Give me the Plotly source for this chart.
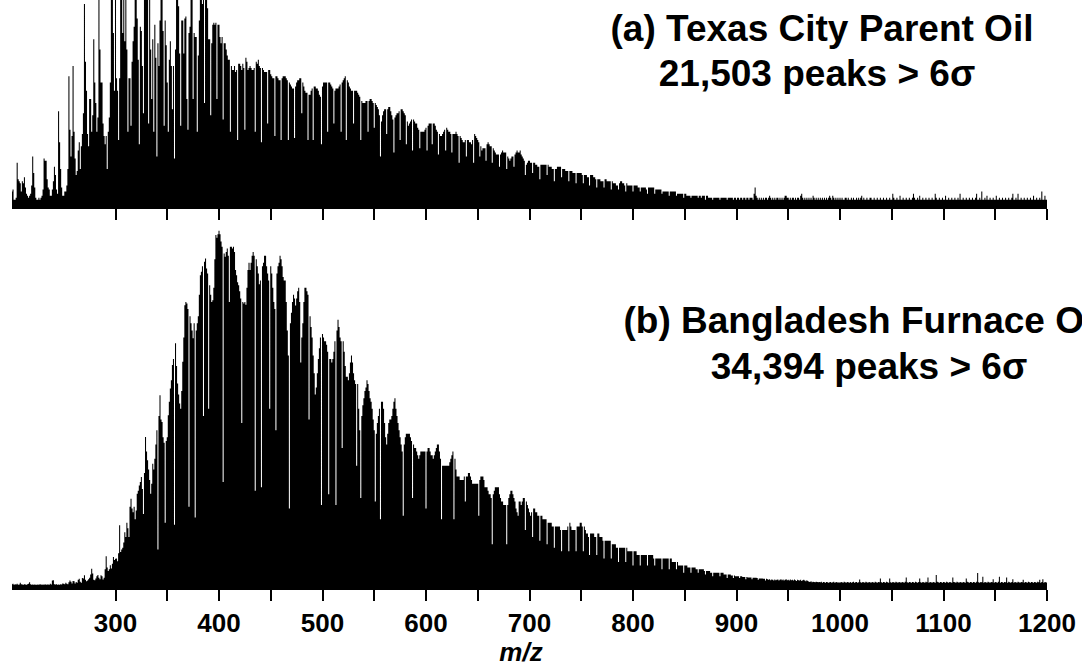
import plotly.graph_objects as go

# Nominal-mass grid shared by both spectra (m/z 200 .. 1200, 1 Da steps)
MZ_START = 200
MZ_STOP = 1200

# (a) Texas City parent oil: relative abundance per nominal mass
# (panel scale: 100 = top of the panel, taller peaks run off-scale)
INTENSITY_A = [
    7, 8, 3, 3, 4, 21, 13, 12, 11, 7,            # 200
    12, 11, 14, 9, 6, 5, 4, 5, 6, 10,            # 210
    24, 16, 9, 4, 3, 3, 4, 3, 4, 5,              # 220
    8, 23, 22, 22, 13, 9, 8, 5, 5, 8,            # 230
    12, 19, 15, 8, 6, 46, 31, 18, 9, 5,          # 240
    5, 7, 7, 10, 18, 63, 37, 24, 34, 68,         # 250
    36, 23, 15, 17, 27, 31, 18, 29, 35, 45,      # 260
    98, 70, 56, 35, 29, 52, 52, 36, 44, 81,      # 270
    60, 50, 36, 43, 115, 76, 60, 60, 40, 34,     # 280
    30, 34, 18, 36, 43, 60, 120, 125, 84, 56,    # 290
    118, 62, 56, 32, 62, 130, 135, 84, 125, 80,  # 300
    128, 76, 36, 62, 62, 39, 70, 80, 87, 125,    # 310
    130, 91, 71, 30, 87, 85, 68, 45, 120, 135,   # 320
    130, 125, 40, 110, 76, 52, 81, 36, 88, 72,   # 330
    24, 79, 68, 90, 115, 140, 85, 39, 90, 78,    # 340
    60, 36, 71, 80, 68, 47, 68, 23, 76, 118,     # 350
    130, 97, 74, 39, 90, 90, 74, 91, 92, 52,     # 360
    37, 84, 87, 112, 135, 52, 84, 82, 82, 36,    # 370
    73, 90, 120, 130, 98, 110, 50, 105, 115, 96, # 380
    81, 81, 44, 79, 88, 89, 88, 89, 52, 88,      # 390
    88, 82, 79, 82, 42, 79, 79, 76, 73, 71,      # 400
    71, 36, 68, 66, 66, 68, 65, 66, 32, 69,      # 410
    69, 68, 66, 69, 67, 37, 72, 70, 66, 67,      # 420
    68, 67, 66, 66, 67, 36, 70, 69, 71, 68,      # 430
    67, 31, 67, 66, 65, 65, 65, 40, 66, 66,      # 440
    64, 63, 62, 62, 34, 63, 63, 62, 61, 61,      # 450
    32, 62, 63, 63, 63, 62, 61, 32, 60, 59,      # 460
    58, 57, 57, 33, 58, 60, 61, 61, 62, 62,      # 470
    45, 60, 58, 56, 55, 55, 32, 54, 54, 56,      # 480
    57, 32, 58, 58, 57, 57, 56, 54, 53, 30,      # 490
    58, 60, 60, 60, 60, 36, 60, 60, 59, 58,      # 500
    57, 40, 56, 57, 57, 57, 58, 59, 36, 60,      # 510
    61, 62, 63, 32, 61, 60, 58, 57, 56, 56,      # 520
    40, 56, 56, 56, 55, 54, 53, 32, 51, 50,      # 530
    50, 50, 51, 51, 36, 51, 52, 52, 51, 50,      # 540
    38, 50, 49, 48, 47, 44, 24, 41, 44, 46,      # 550
    47, 47, 35, 47, 48, 48, 46, 44, 42, 26,      # 560
    43, 44, 45, 45, 46, 32, 47, 47, 46, 45,      # 570
    44, 30, 41, 39, 40, 41, 42, 27, 42, 41,      # 580
    40, 40, 38, 37, 28, 36, 36, 36, 36, 37,      # 590
    38, 27, 39, 40, 40, 40, 30, 40, 40, 39,      # 600
    37, 36, 25, 35, 34, 34, 35, 36, 37, 27,      # 610
    38, 37, 36, 36, 35, 26, 35, 35, 35, 36,      # 620
    35, 34, 21, 34, 33, 32, 31, 31, 32, 24,      # 630
    32, 32, 31, 31, 30, 32, 21, 35, 34, 33,      # 640
    32, 31, 24, 29, 27, 28, 28, 28, 22, 30,      # 650
    31, 30, 29, 29, 21, 28, 27, 26, 25, 25,      # 660
    25, 19, 25, 26, 27, 26, 26, 26, 18, 24,      # 670
    23, 22, 23, 24, 24, 19, 25, 26, 27, 26,      # 680
    26, 27, 25, 24, 23, 22, 15, 20, 21, 22,      # 690
    22, 21, 21, 16, 21, 21, 20, 20, 19, 19,      # 700
    13, 20, 20, 20, 20, 20, 20, 15, 20, 19,      # 710
    19, 19, 18, 18, 12, 18, 18, 19, 19, 19,      # 720
    19, 14, 18, 18, 18, 17, 17, 17, 12, 17,      # 730
    17, 17, 16, 16, 16, 11, 16, 16, 16, 16,      # 740
    16, 15, 11, 15, 15, 15, 14, 14, 10, 15,      # 750
    15, 15, 14, 14, 13, 9, 13, 13, 13, 12,       # 760
    12, 12, 9, 13, 13, 12, 12, 12, 12, 8,        # 770
    12, 11, 11, 11, 10, 10, 8, 11, 12, 12,       # 780
    11, 11, 10, 7, 11, 10, 10, 10, 10, 10,       # 790
    7, 10, 10, 10, 10, 9, 9, 7, 9, 9,            # 800
    9, 9, 9, 8, 6, 9, 9, 9, 9, 9,                # 810
    9, 6, 8, 8, 8, 8, 8, 8, 6, 7,                # 820
    7, 7, 7, 7, 7, 5, 7, 7, 7, 7,                # 830
    7, 7, 5, 6, 6, 6, 6, 6, 6, 4,                # 840
    6, 6, 5, 5, 5, 5, 4, 5, 5, 5,                # 850
    5, 5, 5, 4, 5, 5, 4, 5, 5, 5,                # 860
    3, 5, 5, 4, 4, 4, 4, 3, 4, 4,                # 870
    4, 4, 4, 4, 3, 4, 4, 4, 4, 4,                # 880
    4, 3, 4, 4, 4, 4, 4, 3, 4, 4,                # 890
    3, 4, 4, 3, 4, 4, 3, 4, 4, 3,                # 900
    4, 4, 3, 4, 4, 4, 3, 6, 9, 5,                # 910
    4, 3, 4, 3, 4, 3, 4, 3, 4, 4,                # 920
    3, 4, 5, 4, 3, 4, 3, 4, 3, 4,                # 930
    4, 3, 4, 3, 4, 3, 4, 5, 5, 4,                # 940
    4, 3, 4, 3, 4, 4, 3, 4, 3, 4,                # 950
    4, 3, 5, 6, 4, 3, 4, 3, 4, 3,                # 960
    4, 3, 4, 3, 5, 4, 3, 4, 3, 4,                # 970
    3, 4, 3, 4, 3, 4, 3, 4, 3, 4,                # 980
    5, 4, 3, 5, 4, 3, 4, 3, 4, 3,                # 990
    4, 3, 4, 3, 3, 4, 4, 3, 4, 3,                # 1000
    3, 4, 3, 4, 3, 3, 4, 3, 4, 3,                # 1010
    4, 5, 3, 4, 3, 3, 4, 3, 3, 4,                # 1020
    4, 3, 3, 4, 3, 3, 4, 3, 3, 4,                # 1030
    3, 3, 4, 3, 3, 4, 3, 3, 4, 3,                # 1040
    3, 6, 4, 3, 3, 4, 3, 3, 5, 3,                # 1050
    3, 4, 3, 3, 4, 3, 3, 4, 3, 3,                # 1060
    4, 6, 4, 3, 3, 4, 3, 5, 3, 3,                # 1070
    4, 3, 3, 4, 3, 3, 4, 3, 3, 4,                # 1080
    3, 3, 6, 4, 3, 3, 4, 3, 3, 4,                # 1090
    3, 3, 5, 3, 3, 4, 3, 3, 4, 3,                # 1100
    3, 4, 3, 3, 4, 3, 6, 3, 3, 4,                # 1110
    3, 3, 4, 3, 3, 4, 3, 3, 4, 3,                # 1120
    3, 4, 6, 3, 3, 4, 3, 7, 3, 3,                # 1130
    4, 3, 5, 3, 3, 4, 3, 3, 4, 3,                # 1140
    3, 5, 3, 3, 4, 3, 3, 4, 3, 3,                # 1150
    4, 3, 3, 4, 3, 3, 4, 6, 3, 3,                # 1160
    4, 3, 6, 3, 3, 4, 3, 3, 4, 3,                # 1170
    3, 4, 3, 3, 4, 3, 3, 5, 3, 3,                # 1180
    4, 3, 3, 4, 3, 7, 3, 3, 5, 3,                # 1190
    3,                                           # 1200
]

# (b) Bangladesh furnace oil: relative abundance per nominal mass (base peak = 100)
INTENSITY_B = [
    0.8, 0.9, 0.6, 0.8, 0.7, 0.9, 0.6, 0.7, 1.2, 0.8,          # 200
    0.7, 0.6, 0.8, 0.7, 0.6, 0.8, 0.9, 1.3, 0.8, 0.6,          # 210
    0.7, 0.6, 0.7, 0.6, 0.6, 0.7, 0.6, 0.8, 0.7, 0.6,          # 220
    0.7, 0.6, 0.8, 0.6, 0.7, 0.7, 0.6, 0.9, 0.7, 1.8,          # 230
    1.9, 0.8, 0.7, 0.8, 0.6, 0.7, 0.6, 0.8, 0.7, 1.0,          # 240
    0.9, 0.8, 1.2, 0.9, 0.8, 1.3, 1.8, 1.5, 1.0, 1.7,          # 250
    1.6, 1.0, 1.4, 1.2, 2.0, 2.3, 1.5, 1.2, 2.5, 2.4,          # 260
    3.3, 2.0, 1.6, 1.8, 2.2, 2.6, 3.5, 5.1, 3.8, 2.0,          # 270
    1.9, 2.4, 3.0, 3.4, 2.6, 2.2, 3.3, 3.0, 2.1, 2.6,          # 280
    5.0, 8.6, 5.5, 4.5, 5.0, 6.1, 5.2, 6.5, 8.4, 7.6,          # 290
    7.9, 8.0, 7.2, 9.5, 17.3, 9.8, 10.5, 11.0, 12.5, 15.4,     # 300
    14.0, 18.0, 16.5, 14.0, 22.5, 24.8, 22.0, 21.0, 22.5, 19.0,  # 310
    21.5, 26.2, 27.0, 28.5, 29.5, 30.9, 27.5, 20.5, 32.0, 42.1,  # 320
    38.0, 35.6, 33.0, 30.0, 26.2, 29.0, 34.6, 33.0, 36.0, 40.0,  # 330
    44.0, 10.5, 48.0, 53.8, 47.0, 46.3, 42.0, 40.5, 18.0, 41.0,  # 340
    42.0, 48.2, 52.0, 55.7, 58.0, 62.3, 64.0, 17.5, 68.4, 62.0,  # 350
    57.1, 54.0, 51.5, 50.0, 55.0, 63.2, 70.0, 79.1, 80.0, 79.6,  # 360
    78.0, 22.5, 76.0, 74.0, 72.0, 69.8, 74.0, 19.5, 72.0, 74.0,  # 370
    76.0, 82.0, 87.5, 88.5, 90.0, 48.0, 91.3, 92.2, 89.4, 88.0,  # 380
    50.0, 84.7, 82.0, 80.0, 80.5, 84.0, 92.0, 98.8, 98.0, 99.0,  # 390
    100.0, 99.0, 97.0, 95.5, 29.5, 93.6, 92.7, 94.0, 95.0, 93.0,  # 400
    80.0, 95.5, 95.5, 95.0, 95.5, 94.0, 89.0, 87.5, 85.5, 84.7,  # 410
    83.0, 81.0, 46.0, 80.0, 79.6, 80.0, 79.2, 84.0, 89.0, 91.0,  # 420
    89, 91, 93, 94, 93, 27, 92, 90, 88, 85,                    # 430
    86, 28, 90, 91, 93, 93, 90, 88, 86, 50,                    # 440
    90, 88, 84, 80, 78, 44, 88, 90, 91, 93,                    # 450
    92, 90, 87, 86, 86, 80, 72, 65, 22, 74,                    # 460
    77, 80, 82, 81, 79, 81, 83, 84, 80, 63,                    # 470
    70, 74, 80, 84, 84, 83, 82, 47, 76, 73,                    # 480
    70, 65, 60, 54, 56, 60, 64, 67, 70, 23,                    # 490
    71, 70, 69, 69, 68, 66, 26, 64, 64, 63,                    # 500
    64, 66, 69, 23, 72, 75, 73, 70, 69, 39,                    # 510
    69, 66, 62, 59, 59, 58, 60, 63, 65, 63,                    # 520
    60, 58, 57, 34, 57, 50, 44, 25, 48, 51,                    # 530
    53, 55, 56, 58, 57, 55, 53, 52, 50, 47,                    # 540
    44, 24, 43, 46, 48, 50, 19, 52, 52, 50,                    # 550
    46, 42, 40, 43, 46, 47, 47, 48, 50, 52,                    # 560
    53, 50, 48, 46, 44, 42, 40, 38, 20, 40,                    # 570
    42, 43, 43, 43, 43, 42, 41, 25, 40, 39,                    # 580
    39, 38, 37, 36, 37, 38, 38, 38, 38, 38,                    # 590
    22, 38, 39, 39, 38, 37, 37, 36, 37, 38,                    # 600
    39, 40, 40, 38, 36, 19, 34, 34, 34, 34,                    # 610
    34, 34, 34, 35, 36, 37, 38, 19, 36, 33,                    # 620
    31, 31, 31, 30, 30, 30, 30, 31, 24, 31,                    # 630
    31, 32, 32, 31, 30, 29, 29, 29, 29, 29,                    # 640
    29, 20, 30, 31, 31, 31, 30, 28, 28, 28,                    # 650
    27, 26, 26, 25, 12, 26, 27, 28, 28, 28,                    # 660
    28, 26, 25, 24, 24, 23, 23, 23, 12, 23,                    # 670
    25, 26, 27, 27, 26, 25, 24, 22, 21, 20,                    # 680
    24, 24, 23, 24, 25, 25, 16, 24, 23, 22,                    # 690
    21, 20, 21, 14, 22, 22, 21, 21, 20, 20,                    # 700
    13, 20, 20, 19, 19, 19, 19, 12, 18, 18,                    # 710
    18, 18, 17, 17, 11, 17, 17, 17, 17, 17,                    # 720
    16, 10, 16, 16, 16, 16, 16, 17, 10, 18,                    # 730
    17, 16, 16, 16, 16, 10, 17, 17, 17, 18,                    # 740
    18, 17, 10, 17, 16, 15, 15, 14, 9, 15,                     # 750
    15, 15, 15, 14, 14, 9, 15, 15, 14, 14,                     # 760
    14, 13, 8, 13, 13, 13, 13, 13, 13, 8,                      # 770
    12, 12, 12, 12, 11, 11, 7, 11, 11, 11,                     # 780
    11, 11, 11, 7, 11, 10, 10, 10, 10, 10,                     # 790
    6, 10, 10, 10, 9, 9, 9, 6, 9, 9,                           # 800
    9, 9, 9, 9, 6, 9, 9, 9, 9, 9,                              # 810
    8, 6, 8, 8, 8, 8, 8, 8, 5, 8,                              # 820
    8, 8, 8, 8, 8, 5, 8, 8, 7, 7,                              # 830
    7, 7, 5, 7, 6, 6, 6, 6, 6, 4,                              # 840
    6, 6, 6, 5.5, 5.5, 5.5, 4, 5.5, 5.5, 5.5,                  # 850
    5.5, 5, 5, 4, 5, 5, 5, 5, 5, 4.5,                          # 860
    3.5, 4.5, 4.5, 4.5, 4.5, 4, 4, 3, 4, 4,                    # 870
    4, 4, 4, 4, 3, 4, 4, 4, 3.5, 3.5,                          # 880
    3.5, 2.5, 3.5, 3.5, 3.5, 3.2, 3.2, 2.5, 3.2, 3,            # 890
    3, 3, 3, 2.5, 3, 3, 2.8, 2.8, 2.8, 2.2,                    # 900
    2.8, 2.7, 2.7, 2.7, 2.7, 2.2, 2.6, 2.6, 2.6, 2.6,          # 910
    2.5, 2.0, 2.4, 2.4, 2.4, 2.4, 2.3, 2.3, 1.8, 2.3,          # 920
    2.2, 2.0, 2.2, 1.9, 2.1, 2.0, 1.8, 2.1, 1.9, 2.0,          # 930
    2.1, 1.8, 2.0, 2.2, 1.9, 2.1, 1.8, 2.0, 2.2, 1.9,          # 940
    2.0, 1.8, 2.1, 1.9, 2.0, 1.8, 2.1, 1.9, 1.7, 2.0,          # 950
    1.9, 1.8, 2.0, 1.7, 1.9, 2.0, 1.8, 1.6, 1.9, 1.7,          # 960
    1.5, 1.4, 1.6, 1.3, 1.5, 1.4, 1.3, 1.5, 1.4, 1.3,          # 970
    1.4, 1.3, 1.5, 1.2, 1.4, 1.3, 1.2, 1.4, 1.3, 1.2,          # 980
    1.3, 1.4, 1.2, 1.3, 1.5, 1.2, 1.3, 1.4, 1.2, 1.3,          # 990
    1.2, 1.4, 1.3, 1.2, 1.5, 1.3, 1.2, 1.4, 1.3, 1.2,          # 1000
    1.4, 1.2, 1.3, 1.5, 1.2, 1.3, 1.4, 1.2, 1.3, 2.1,          # 1010
    1.3, 1.2, 1.4, 1.3, 1.2, 1.5, 1.3, 1.2, 1.4, 1.3,          # 1020
    1.2, 1.4, 1.3, 1.2, 1.5, 1.3, 1.2, 1.4, 1.3, 2.4,          # 1030
    1.3, 1.2, 1.4, 1.3, 1.2, 1.5, 1.3, 1.2, 2.4, 1.3,          # 1040
    1.2, 1.4, 1.3, 1.2, 1.5, 1.3, 1.2, 1.4, 1.3, 1.2,          # 1050
    1.4, 1.3, 1.2, 1.5, 2.7, 1.3, 1.2, 1.4, 1.3, 1.2,          # 1060
    1.4, 1.3, 1.2, 1.5, 1.3, 1.2, 1.4, 2.4, 1.3, 1.2,          # 1070
    1.4, 1.3, 1.2, 1.5, 1.3, 2.7, 1.2, 1.4, 1.3, 1.2,          # 1080
    1.4, 1.3, 1.2, 3.4, 1.5, 1.3, 1.2, 1.4, 1.3, 1.2,          # 1090
    1.4, 1.3, 1.2, 1.5, 1.3, 1.2, 1.4, 1.3, 1.2, 2.7,          # 1100
    1.4, 1.3, 1.2, 1.5, 1.3, 1.2, 1.4, 1.3, 1.2, 1.4,          # 1110
    1.3, 1.2, 2.4, 1.5, 1.3, 1.2, 1.4, 1.3, 1.2, 1.4,          # 1120
    1.3, 1.2, 1.5, 3.9, 1.3, 1.2, 1.4, 1.3, 2.9, 1.2,          # 1130
    1.4, 1.3, 1.2, 1.5, 1.3, 1.2, 1.4, 1.3, 2.2, 1.2,          # 1140
    1.4, 1.3, 1.2, 1.5, 2.9, 1.2, 1.4, 1.3, 1.2, 1.4,          # 1150
    1.3, 2.7, 1.2, 1.5, 1.3, 1.2, 1.4, 2.2, 1.2, 1.4,          # 1160
    1.3, 1.2, 1.5, 1.3, 1.2, 1.4, 1.3, 2.0, 1.2, 1.4,          # 1170
    1.3, 1.2, 1.5, 1.3, 1.2, 1.4, 1.3, 1.2, 1.4, 1.3,          # 1180
    1.2, 1.5, 1.3, 2.0, 1.2, 1.4, 2.2, 1.2, 1.4, 1.3,          # 1190
    1.2,                                                       # 1200
]

TICK_VALUES = list(range(300, 1201, 50))
TICK_TEXT = [str(v) if v % 100 == 0 else "" for v in TICK_VALUES]

# Panel captions, one entry per text line
CAPTION_LINES = [
    "(a) Texas City Parent Oil",
    "21,503 peaks > 6σ",
    "(b) Bangladesh Furnace Oil",
    "34,394 peaks > 6σ",
]
X_TITLE = "m/z"

mz_a = list(range(MZ_START, MZ_START + len(INTENSITY_A)))
mz_b = list(range(MZ_START, MZ_START + len(INTENSITY_B)))

W, H = 1082, 666
FONT = "Liberation Sans, Arial, sans-serif"

# Caption anchor points in page pixels (x from left, y from top)
CAPTION_X = [822, 817, 864, 869]
CAPTION_Y = [32, 77, 324, 370]


def spectrum(x, y, xa, ya):
    return go.Scatter(
        x=x, y=y, xaxis=xa, yaxis=ya,
        mode="lines",
        line=dict(color="black", width=0, shape="hvh"),
        fill="tozeroy", fillcolor="black",
        hoverinfo="skip", showlegend=False,
    )


fig = go.Figure()
fig.add_trace(spectrum(mz_a, INTENSITY_A, "x2", "y2"))
fig.add_trace(spectrum(mz_b, INTENSITY_B, "x", "y"))

# Text layer on a full-page pixel grid; text past the right edge is simply cut off
fig.add_trace(go.Scatter(
    x=CAPTION_X, y=CAPTION_Y, text=CAPTION_LINES,
    xaxis="x3", yaxis="y3", mode="text", textposition="middle center",
    textfont=dict(family=FONT, size=37, color="black", weight="bold"),
    cliponaxis=False, hoverinfo="skip", showlegend=False,
))
fig.add_trace(go.Scatter(
    x=[521], y=[654], text=[X_TITLE],
    xaxis="x3", yaxis="y3", mode="text", textposition="middle center",
    textfont=dict(family=FONT, size=26, color="black", weight="bold",
                  style="italic"),
    cliponaxis=False, hoverinfo="skip", showlegend=False,
))

x_domain = [12 / W, 1047 / W]
common_x = dict(
    domain=x_domain,
    range=[MZ_START, MZ_STOP],
    showgrid=False, zeroline=False, automargin=False,
    showline=True, linecolor="black", linewidth=3,
    ticks="outside", ticklen=11, tickwidth=2, tickcolor="black",
    tickmode="array", tickvals=TICK_VALUES, ticktext=TICK_TEXT,
)

fig.update_layout(
    width=W, height=H,
    margin=dict(l=0, r=0, t=0, b=0, autoexpand=False),
    paper_bgcolor="white", plot_bgcolor="rgba(0,0,0,0)",
    xaxis=dict(
        **common_x, anchor="y",
        tickfont=dict(family=FONT, size=26, color="black", weight="bold"),
    ),
    yaxis=dict(
        domain=[1 - 587 / H, 1 - 220 / H], range=[0, 103],
        visible=False, fixedrange=True,
    ),
    xaxis2=dict(**common_x, anchor="y2", showticklabels=False),
    yaxis2=dict(
        domain=[1 - 206 / H, 1.0], range=[0, 100],
        visible=False, fixedrange=True,
    ),
    xaxis3=dict(domain=[0, 1], range=[0, W], anchor="y3",
                visible=False, fixedrange=True),
    yaxis3=dict(domain=[0, 1], range=[H, 0], anchor="x3",
                visible=False, fixedrange=True),
)

fig.write_html("out.html")
